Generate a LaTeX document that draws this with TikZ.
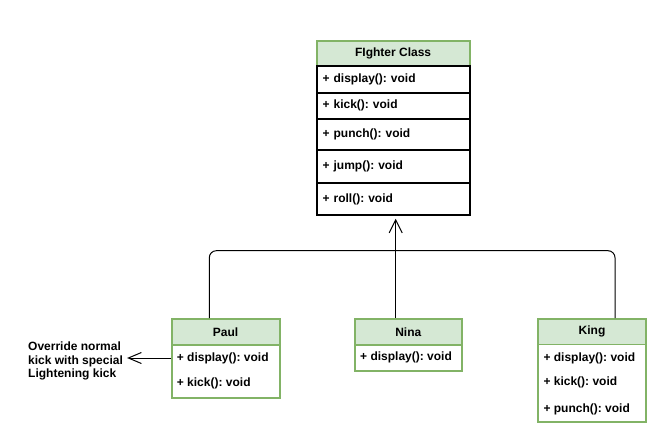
\documentclass[tikz,border=0pt]{standalone}
\usepackage{fontspec}
\setmainfont{Liberation Sans}
\usetikzlibrary{arrows.meta,calc}
\definecolor{gfill}{HTML}{D5E8D4}
\definecolor{gline}{HTML}{82B366}
\frenchspacing
\begin{document}
\begin{tikzpicture}[x=1pt,y=-1pt,
  font=\fontsize{12}{14}\selectfont\bfseries,
  hdr/.style={draw=gline, fill=gfill, line width=1.8pt, anchor=north west, inner sep=0pt, align=center},
  frow/.style={draw=black, fill=white, line width=1.8pt, anchor=north west, inner xsep=6pt, inner ysep=0pt, text width=141pt, align=left, minimum width=153pt},
  sbody/.style={draw=gline, fill=white, line width=1.8pt, anchor=north west, inner sep=0pt},
  mtext/.style={anchor=west, inner sep=0pt},
  conn/.style={draw=black, line width=1pt},
  openarrow/.style={-{Straight Barb[length=13pt,width=13pt,line width=1pt]}}
]
\useasboundingbox (0,0) rectangle (663,434);

% Fighter class
\node[hdr, minimum width=153pt, minimum height=24.4pt] (fighter) at (315.7,40.3) {FIghter Class};
\node[frow, minimum height=27pt] (fdisplay) at (315.7,64.7) {+ display(): void};
\node[frow, minimum height=26.3pt] (fkick) at (315.7,91.7) {+ kick(): void};
\node[frow, minimum height=31pt] (fpunch) at (315.7,118) {+ punch(): void};
\node[frow, minimum height=33pt] (fjump) at (315.7,149) {+ jump(): void};
\node[frow, minimum height=32pt] (froll) at (315.7,182) {+ roll(): void};

% Paul
\node[hdr, minimum width=108pt, minimum height=26.3pt] (paul) at (170.7,318) {Paul};
\node[sbody, minimum width=108pt, minimum height=52.4pt] (paulbody) at (170.7,344.3) {};
\node[mtext] (paul1) at (176.7,358) {+ display(): void};
\node[mtext] (paul2) at (176.7,383) {+ kick(): void};

% Nina
\node[hdr, minimum width=106.7pt, minimum height=26pt] (nina) at (354,318) {Nina};
\node[sbody, minimum width=106.7pt, minimum height=26pt] (ninabody) at (354,344) {};
\node[mtext] (nina1) at (360,357.5) {+ display(): void};

% King
\node[hdr, minimum width=107.7pt, minimum height=25.5pt] (king) at (537.3,318) {King};
\node[sbody, minimum width=107.7pt, minimum height=77.2pt] (kingbody) at (537.3,343.5) {};
\node[mtext] (king1) at (543.3,358) {+ display(): void};
\node[mtext] (king2) at (543.3,382.7) {+ kick(): void};
\node[mtext] (king3) at (543.3,409) {+ punch(): void};

% Note
\node[anchor=west, align=left, inner sep=0pt, font=\fontsize{12}{13.5}\selectfont\bfseries] (note) at (28,361) {Override normal\\kick with special\\Lightening kick};

% Connectors
\coordinate (jn) at (395.7,250.7);
\coordinate (jl) at (209.3,250.7);
\coordinate (jr) at (615,250.7);
\draw[conn, rounded corners=7pt] (paul.north -| jl) -- (jl) -- (jr) -- (king.north -| jr);
\draw[conn, openarrow, shorten >=3pt] (nina.north -| jn) -- (froll.south -| jn);
\draw[conn, -{Straight Barb[length=13pt,width=11pt,line width=1pt]}, shorten >=4pt] (paulbody.west |- paul1) -- (note.east |- paul1);
\end{tikzpicture}
\end{document}
